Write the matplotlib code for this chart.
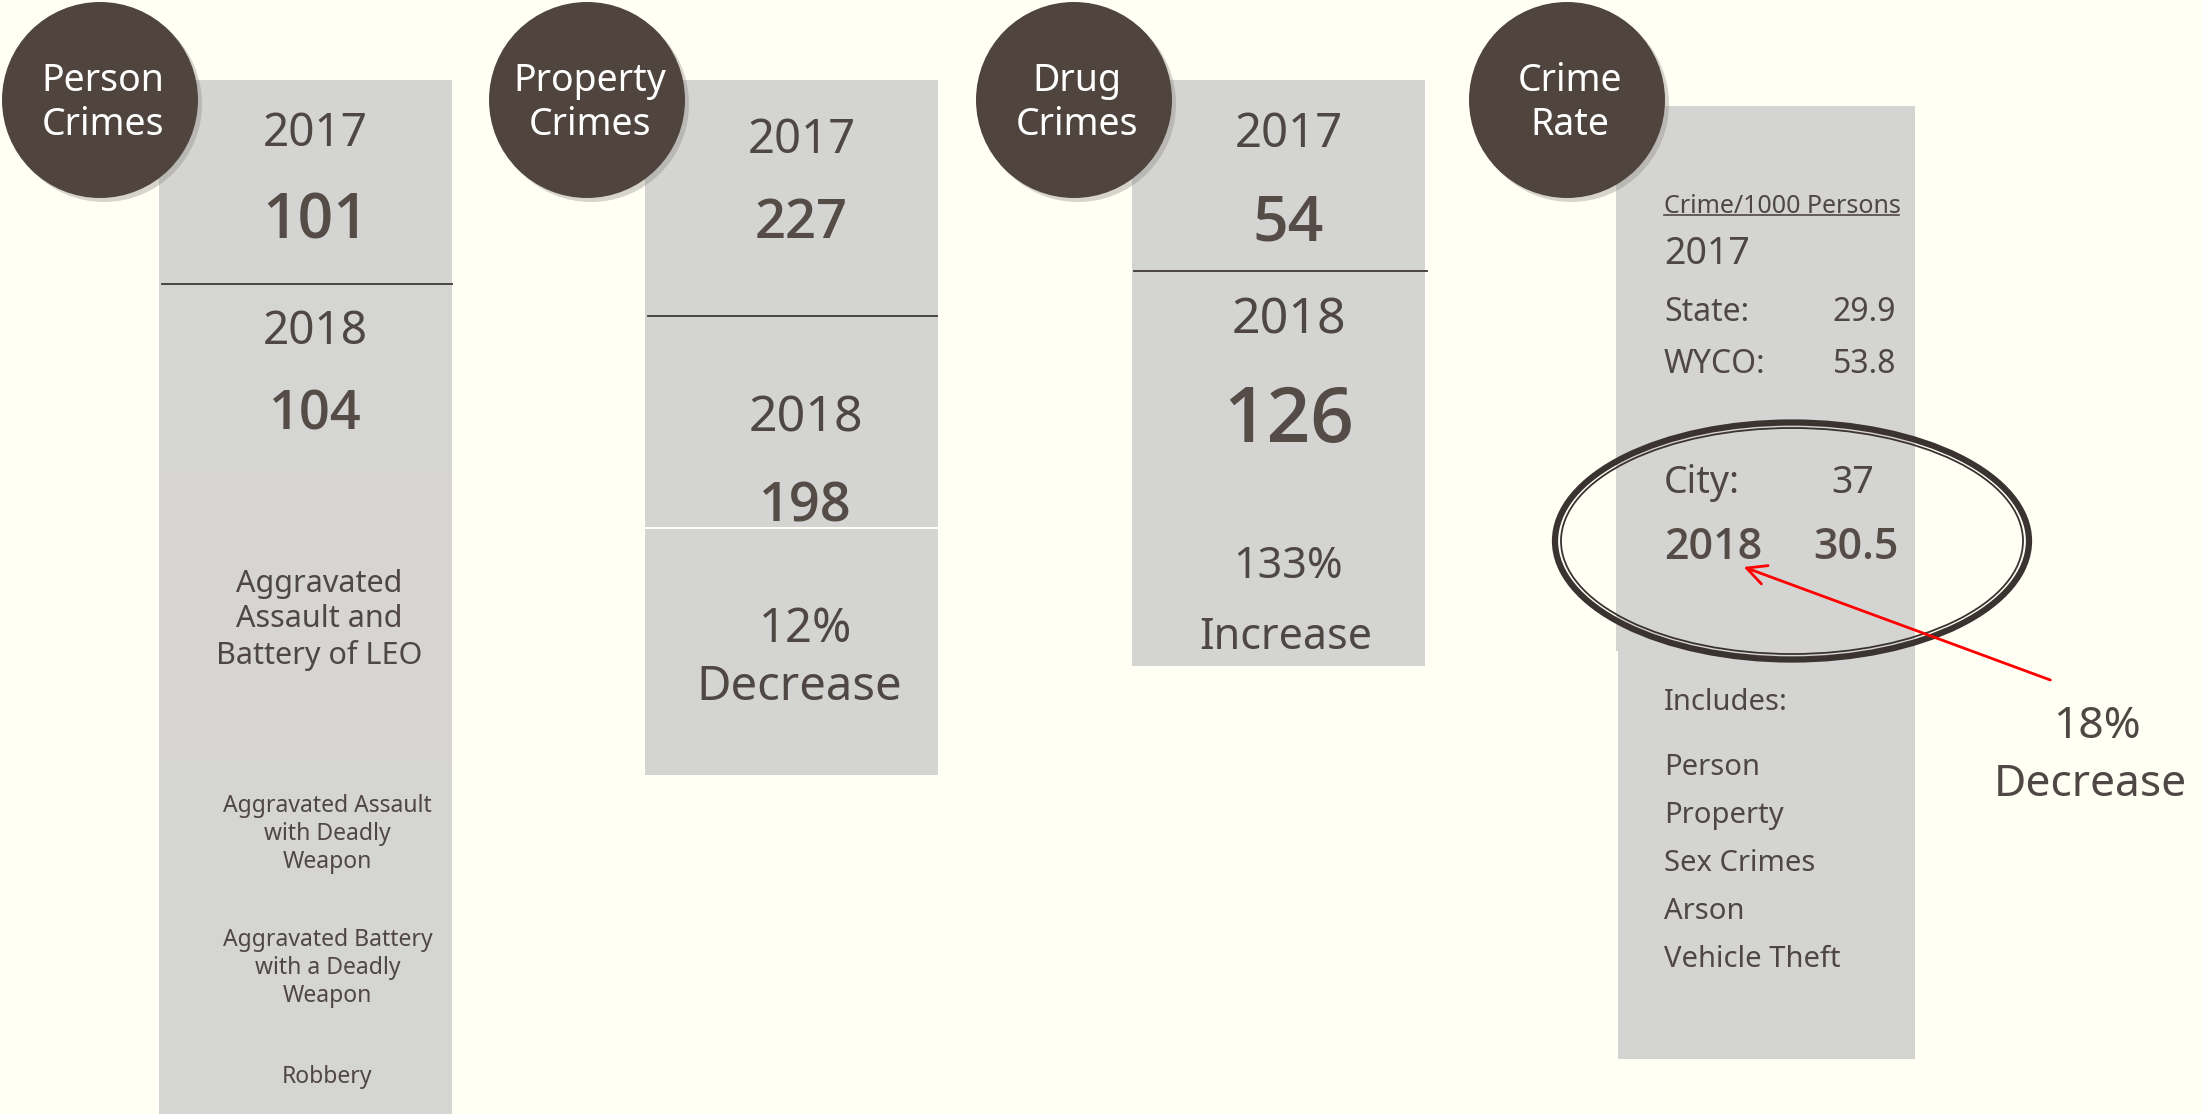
import matplotlib.pyplot as plt
from matplotlib.patches import Circle, Ellipse, Rectangle

# data
categories = ['Person\nCrimes', 'Property\nCrimes', 'Drug\nCrimes', 'Crime\nRate']
counts_2017 = [101, 227, 54]
counts_2018 = [104, 198, 126]
change_pct = ['12%', '133%']
change_word = ['Decrease', 'Increase']
person_types = ['Aggravated\nAssault and\nBattery of LEO',
                'Aggravated Assault\nwith Deadly\nWeapon',
                'Aggravated Battery\nwith a Deadly\nWeapon',
                'Robbery']
rate_labels = ['State:', 'WYCO:']
rate_2017 = [29.9, 53.8]
city_2017 = 37
city_2018 = 30.5
rate_change = ['18%', 'Decrease']
includes = ['Person', 'Property', 'Sex Crimes', 'Arson', 'Vehicle Theft']

BG = '#fffff4'
BOX = '#d4d4d2'
TXT = '#4f4743'
DARK = '#4f443e'
FONT = ['Noto Sans', 'DejaVu Sans']
NUM = ['Open Sans', 'Noto Sans', 'DejaVu Sans']
NUMW = 'semibold'

plt.rcParams['font.family'] = FONT

fig = plt.figure(figsize=(22.02, 11.14), dpi=100, facecolor=BG)
ax = fig.add_axes([0, 0, 1, 1])
ax.set_xlim(0, 2202)
ax.set_ylim(1114, 0)
ax.axis('off')
ax.set_facecolor(BG)

box_left = [159, 645, 1132, 1617]
box_w = [293, 293, 293, 298]
circle_x = [100, 587, 1074, 1567]


def box(x, y0, y1, w, col=BOX):
    ax.add_patch(Rectangle((x, y0), w, y1 - y0, facecolor=col, edgecolor='none', zorder=1))


def txt(x, y, s, size, weight='normal', ha='center', family=FONT, color=TXT):
    # single line: y is the middle of the cap height
    ax.text(x, y + 0.49 * size, s, fontsize=size, fontweight=weight, ha=ha, va='baseline',
            color=color, family=family, zorder=5)


def block(x, y, s, size, ls=1.25):
    ax.text(x, y, s, fontsize=size, ha='center', va='center', color=TXT,
            linespacing=ls, zorder=5)


# Person crimes column
cx = box_left[0] + box_w[0] / 2 + 10
box(159, 80, 274, 293, '#d4d4d2')
box(159, 274, 468, 293, '#d5d5d3')
box(159, 468, 765, 293, '#d6d5d3')
box(159, 765, 1114, 293, '#d5d5d3')
ax.plot([162, 452], [284, 284], color='#3e3834', lw=1.3, zorder=3)
txt(cx, 130, '2017', 33)
txt(cx, 216, str(counts_2017[0]), 45, NUMW, family=NUM, color='#554c48')
txt(cx, 328, '2018', 33)
txt(cx, 410, str(counts_2018[0]), 39, NUMW, family=NUM, color='#554c48')
block(cx + 4, 620, person_types[0], 22)
for s, y in zip(person_types[1:], [834, 968, 1077]):
    block(cx + 12, y, s, 16.5)

# Property crimes column
cx = box_left[1] + box_w[1] / 2 + 10
box(645, 80, 527, 293)
box(645, 529, 775, 293)
ax.plot([648, 937], [316, 316], color='#3e3834', lw=1.3, zorder=3)
txt(cx, 136, '2017', 34)
txt(cx, 219, str(counts_2017[1]), 39, NUMW, family=NUM, color='#554c48')
txt(cx + 4, 414, '2018', 36)
txt(cx + 4, 502, str(counts_2018[1]), 39, NUMW, family=NUM, color='#554c48')
txt(cx + 4, 625, change_pct[0], 34)
txt(cx - 2, 683, change_word[0], 34)

# Drug crimes column
cx = box_left[2] + box_w[2] / 2 + 10
box(1132, 80, 666, 293)
ax.plot([1134, 1427], [271, 271], color='#3e3834', lw=1.3, zorder=3)
txt(cx, 130, '2017', 34)
txt(cx, 218, str(counts_2017[2]), 45, NUMW, family=NUM, color='#554c48')
txt(cx, 316, '2018', 36)
txt(cx, 415, str(counts_2018[2]), 55, NUMW, family=NUM, color='#554c48')
txt(cx, 563, change_pct[1], 31)
txt(cx - 3, 634, change_word[1], 31)

# Crime rate column
box(1616, 106, 651, 299)
box(1618, 651, 1059, 297)
lx = 1664
rx = 1896
txt(lx, 204, 'Crime/1000 Persons', 18, ha='left')
ax.plot([lx, 1899], [215, 215], color=TXT, lw=1.2, zorder=5)
txt(lx, 251, '2017', 27, ha='left')
for lab, v, y in zip(rate_labels, rate_2017, [310, 362]):
    txt(lx, y, lab, 23, ha='left')
    txt(rx, y, f'{v}', 23, ha='right')
txt(lx, 480, 'City:', 27, ha='left')
txt(1853, 480, str(city_2017), 27)
txt(lx, 544, '2018', 31, NUMW, ha='left', family=NUM, color='#554c48')
txt(1899, 544, f'{city_2018}', 31, NUMW, ha='right', family=NUM, color='#554c48')
txt(lx, 700, 'Includes:', 21, ha='left')
for i, s in enumerate(includes):
    txt(lx, 765 + i * 48, s, 21, ha='left')

# double ring around 2018 rate
ax.add_patch(Ellipse((1792, 541), 474, 237, fill=False, edgecolor='#3a3330', lw=4.5, zorder=6))
ax.add_patch(Ellipse((1792, 541), 462, 226, fill=False, edgecolor='#3a3330', lw=1.3, zorder=6))

ax.annotate('', xy=(1741, 566), xytext=(2053, 681),
            arrowprops=dict(arrowstyle='->', color='red', lw=2, mutation_scale=35), zorder=7)
txt(2097, 722, rate_change[0], 32)
txt(2090, 780, rate_change[1], 32)

# header circles
for x, lab in zip(circle_x, categories):
    ax.add_patch(Circle((x + 4, 104), 98, facecolor='#8a8580', alpha=0.35, edgecolor='none', zorder=7))
    ax.add_patch(Circle((x, 100), 98, facecolor=DARK, edgecolor='none', zorder=8))
    ax.text(x + 3, 103, lab, fontsize=27, color='white', ha='center', va='center',
            linespacing=1.2, zorder=9)

fig.savefig('out.png', dpi=100, facecolor=BG)
